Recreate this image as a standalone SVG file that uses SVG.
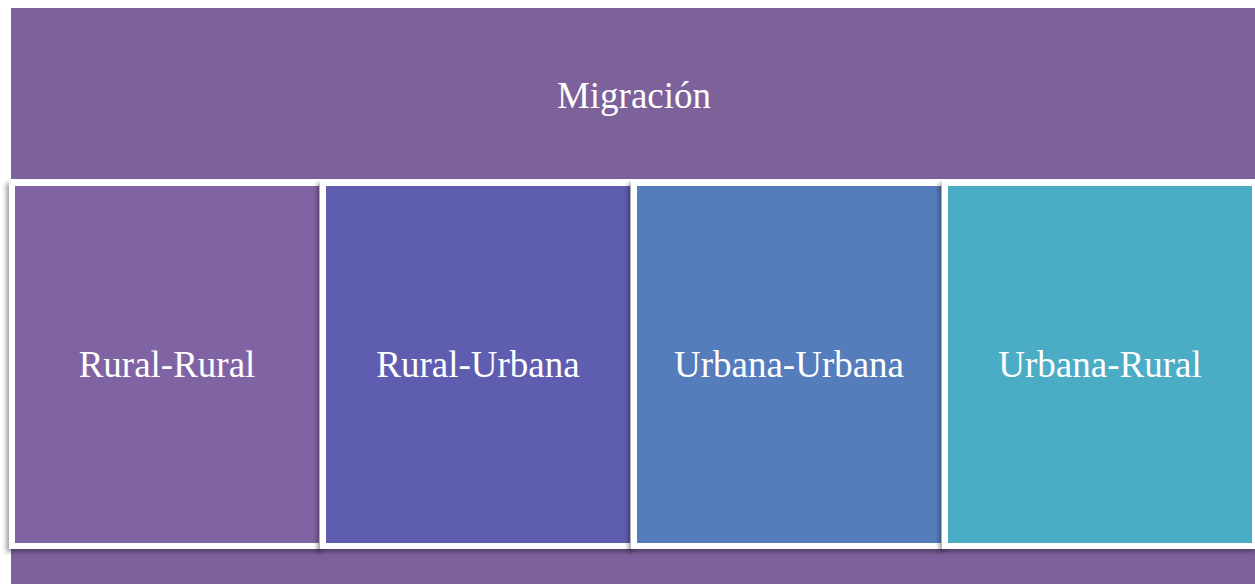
<svg xmlns="http://www.w3.org/2000/svg" width="1255" height="584" viewBox="0 0 1255 584">
<style>
.t{font-family:"Liberation Serif","Times New Roman",serif;font-size:37px;fill:#fff;text-anchor:middle}
.bx{stroke:#fff;stroke-width:6}
</style>
<defs>
<filter id="sh" x="-5%" y="-5%" width="110%" height="110%">
<feDropShadow dx="-3" dy="3" stdDeviation="2" flood-color="#000" flood-opacity="0.35"/>
</filter>
</defs>
<rect width="1255" height="584" fill="#fff"/>
<g id="top">
<rect x="11" y="8" width="1250" height="171" fill="#7C619A"/>
<text class="t" x="634" y="108">Migración</text>
</g>
<g id="bottom">
<rect x="11" y="547" width="1250" height="40" fill="#7C619A"/>
</g>
<g id="n1">
<rect class="bx" x="12" y="183" width="310" height="363" fill="#8064A2" filter="url(#sh)"/>
<text class="t" x="167" y="377">Rural-Rural</text>
</g>
<g id="n2">
<rect class="bx" x="323" y="183" width="310" height="363" fill="#5F5DAF" filter="url(#sh)"/>
<text class="t" x="478" y="377">Rural-Urbana</text>
</g>
<g id="n3">
<rect class="bx" x="634" y="183" width="310" height="363" fill="#557CBB" filter="url(#sh)"/>
<text class="t" x="789" y="377">Urbana-Urbana</text>
</g>
<g id="n4">
<rect class="bx" x="945" y="183" width="310" height="363" fill="#4BACC6" filter="url(#sh)"/>
<text class="t" x="1100" y="377">Urbana-Rural</text>
</g>
<g id="connectors"/>
</svg>
